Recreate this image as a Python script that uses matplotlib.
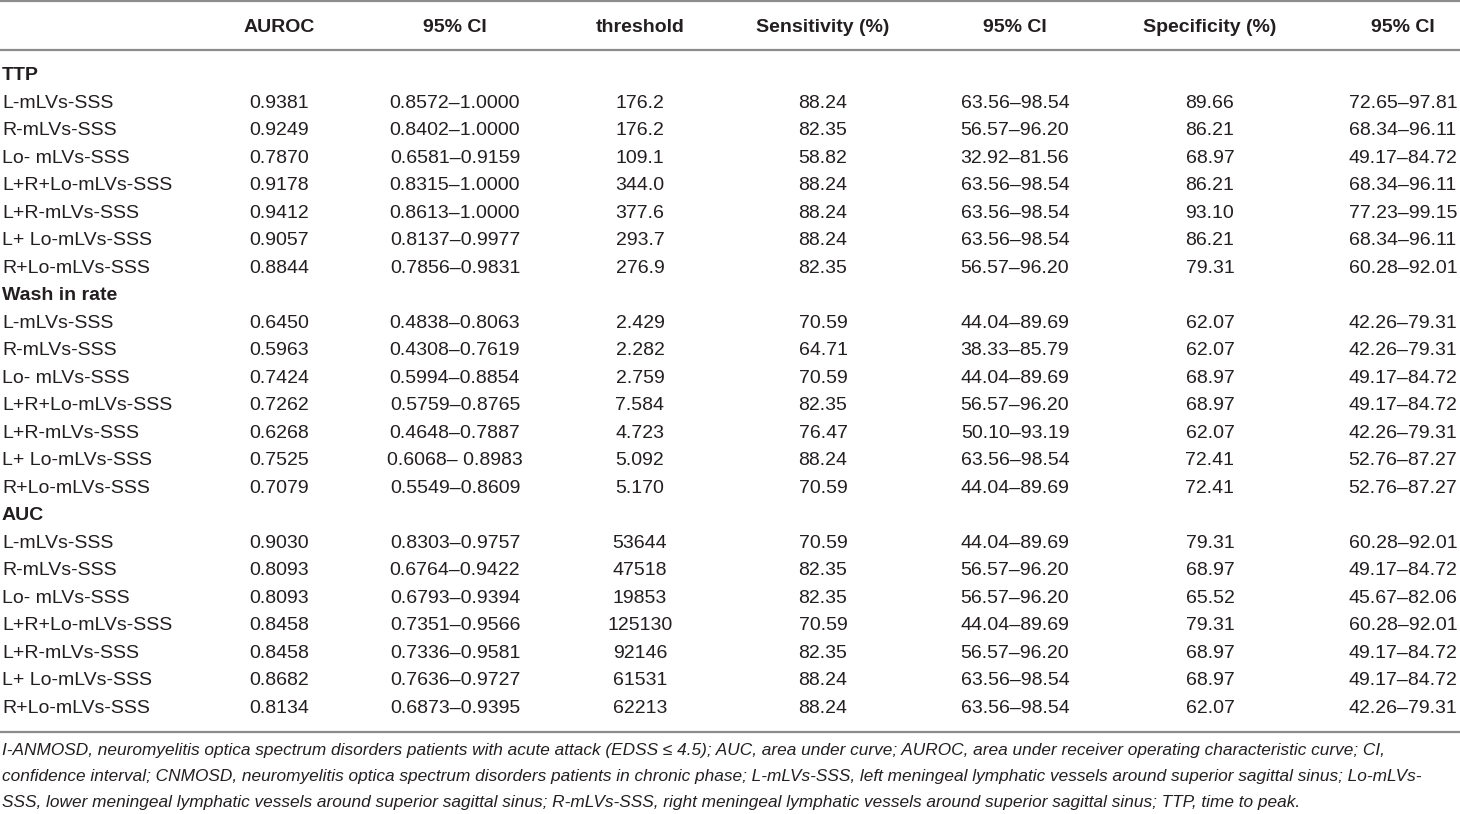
import matplotlib
matplotlib.use("Agg")
from matplotlib import pyplot as plt

plt.rcParams["font.family"] = ["Liberation Sans", "DejaVu Sans"]

headers = ["AUROC", "95% CI", "threshold", "Sensitivity (%)", "95% CI", "Specificity (%)", "95% CI"]
groups = ["TTP", "Wash in rate", "AUC"]
labels = ["L-mLVs-SSS", "R-mLVs-SSS", "Lo- mLVs-SSS", "L+R+Lo-mLVs-SSS",
          "L+R-mLVs-SSS", "L+ Lo-mLVs-SSS", "R+Lo-mLVs-SSS"]

ttp = [
    ["0.9381", "0.8572–1.0000", "176.2", "88.24", "63.56–98.54", "89.66", "72.65–97.81"],
    ["0.9249", "0.8402–1.0000", "176.2", "82.35", "56.57–96.20", "86.21", "68.34–96.11"],
    ["0.7870", "0.6581–0.9159", "109.1", "58.82", "32.92–81.56", "68.97", "49.17–84.72"],
    ["0.9178", "0.8315–1.0000", "344.0", "88.24", "63.56–98.54", "86.21", "68.34–96.11"],
    ["0.9412", "0.8613–1.0000", "377.6", "88.24", "63.56–98.54", "93.10", "77.23–99.15"],
    ["0.9057", "0.8137–0.9977", "293.7", "88.24", "63.56–98.54", "86.21", "68.34–96.11"],
    ["0.8844", "0.7856–0.9831", "276.9", "82.35", "56.57–96.20", "79.31", "60.28–92.01"],
]
wash = [
    ["0.6450", "0.4838–0.8063", "2.429", "70.59", "44.04–89.69", "62.07", "42.26–79.31"],
    ["0.5963", "0.4308–0.7619", "2.282", "64.71", "38.33–85.79", "62.07", "42.26–79.31"],
    ["0.7424", "0.5994–0.8854", "2.759", "70.59", "44.04–89.69", "68.97", "49.17–84.72"],
    ["0.7262", "0.5759–0.8765", "7.584", "82.35", "56.57–96.20", "68.97", "49.17–84.72"],
    ["0.6268", "0.4648–0.7887", "4.723", "76.47", "50.10–93.19", "62.07", "42.26–79.31"],
    ["0.7525", "0.6068– 0.8983", "5.092", "88.24", "63.56–98.54", "72.41", "52.76–87.27"],
    ["0.7079", "0.5549–0.8609", "5.170", "70.59", "44.04–89.69", "72.41", "52.76–87.27"],
]
auc = [
    ["0.9030", "0.8303–0.9757", "53644", "70.59", "44.04–89.69", "79.31", "60.28–92.01"],
    ["0.8093", "0.6764–0.9422", "47518", "82.35", "56.57–96.20", "68.97", "49.17–84.72"],
    ["0.8093", "0.6793–0.9394", "19853", "82.35", "56.57–96.20", "65.52", "45.67–82.06"],
    ["0.8458", "0.7351–0.9566", "125130", "70.59", "44.04–89.69", "79.31", "60.28–92.01"],
    ["0.8458", "0.7336–0.9581", "92146", "82.35", "56.57–96.20", "68.97", "49.17–84.72"],
    ["0.8682", "0.7636–0.9727", "61531", "88.24", "63.56–98.54", "68.97", "49.17–84.72"],
    ["0.8134", "0.6873–0.9395", "62213", "88.24", "63.56–98.54", "62.07", "42.26–79.31"],
]
footnote = [
    "I-ANMOSD, neuromyelitis optica spectrum disorders patients with acute attack (EDSS ≤ 4.5); AUC, area under curve; AUROC, area under receiver operating characteristic curve; CI,",
    "confidence interval; CNMOSD, neuromyelitis optica spectrum disorders patients in chronic phase; L-mLVs-SSS, left meningeal lymphatic vessels around superior sagittal sinus; Lo-mLVs-",
    "SSS, lower meningeal lymphatic vessels around superior sagittal sinus; R-mLVs-SSS, right meningeal lymphatic vessels around superior sagittal sinus; TTP, time to peak.",
]

W, H = 1460, 814
fig = plt.figure(figsize=(W / 100, H / 100), dpi=100)
ax = fig.add_axes([0, 0, 1, 1])
ax.set_xlim(0, W)
ax.set_ylim(H, 0)
ax.axis("off")

txt = "#231f20"
line_c = "#8c8c8c"
fs = 14
col_x = [279, 455, 640, 823, 1015, 1210, 1403]

ax.plot([0, W], [1, 1], color=line_c, lw=1.6)
ax.plot([0, W], [50, 50], color=line_c, lw=1.6)
ax.plot([0, W], [732, 732], color=line_c, lw=1.6)

for x, h in zip(col_x, headers):
    ax.text(x, 27, h, ha="center", va="center", fontsize=fs, fontweight="bold", color=txt)

y0 = 76
dy = 27.48
i = 0
for g, block in zip(groups, [ttp, wash, auc]):
    ax.text(2, y0 + i * dy, g, ha="left", va="center", fontsize=fs, fontweight="bold", color=txt)
    i += 1
    for lab, row in zip(labels, block):
        y = y0 + i * dy
        ax.text(2, y, lab, ha="left", va="center", fontsize=fs, color=txt)
        for x, v in zip(col_x, row):
            ax.text(x, y, v, ha="center", va="center", fontsize=fs, color=txt)
        i += 1

for k, s in enumerate(footnote):
    ax.text(2, 750 + k * 26, s, ha="left", va="center", fontsize=12.4, style="italic", color=txt)

fig.savefig("out.png", dpi=100)
